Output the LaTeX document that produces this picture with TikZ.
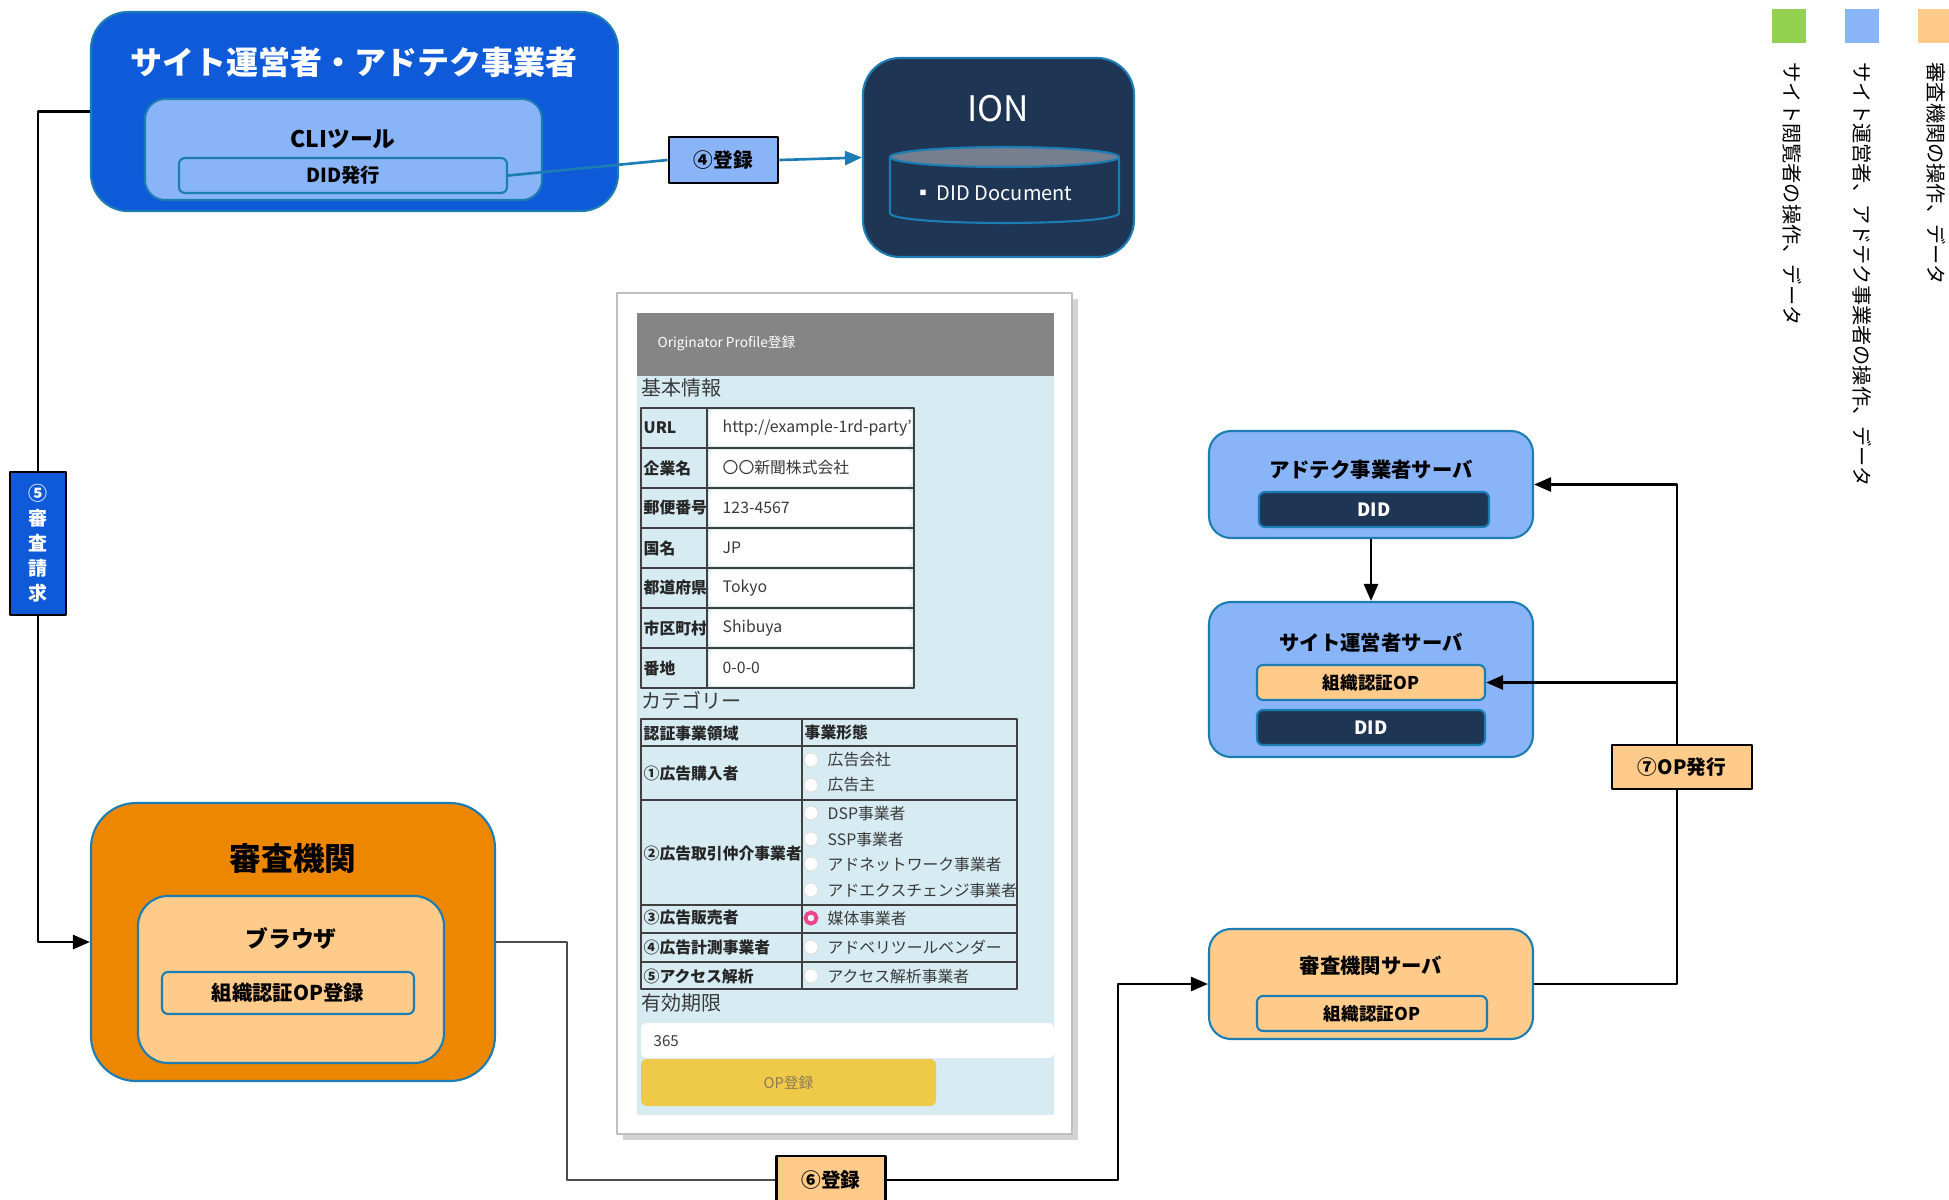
\documentclass[tikz,border=0pt]{standalone}
\usepackage{fontspec}
\setmainfont{Noto Sans CJK JP}
\usetikzlibrary{arrows.meta,shadows}
\definecolor{siteblue}{HTML}{0E5AD9}
\definecolor{lightblue}{HTML}{8AB4F8}
\definecolor{navy}{HTML}{1F3554}
\definecolor{edgeteal}{HTML}{1B7DB3}
\definecolor{examorange}{HTML}{EE8700}
\definecolor{peach}{HTML}{FFCB8B}
\definecolor{leafgreen}{HTML}{94D151}
\definecolor{formbg}{HTML}{D6EBF2}
\definecolor{headgray}{HTML}{858585}
\definecolor{btnyellow}{HTML}{EECA48}
\definecolor{btntext}{HTML}{8A7A52}
\definecolor{cylgray}{HTML}{757F8F}
\definecolor{radiopink}{HTML}{E9468F}
\definecolor{formtext}{HTML}{3A3A3A}
\newcommand\fsz[1]{\fontsize{#1}{#1}\selectfont}
\tikzset{
  every picture/.style={line join=round, >={Triangle[length=1.7mm,width=1.4mm]}},
  wh/.style 2 args={minimum width=#1*0.1mm, minimum height=#2*0.1mm},
  group/.style={draw=edgeteal, line width=0.6pt, inner sep=0pt},
  regbox/.style={draw=black, line width=0.8pt, inner sep=0pt, font=\bfseries\fsz{5.6}},
  boldtitle/.style={inner sep=0pt, font=\bfseries\fsz{#1}},
  conn/.style={draw=black, line width=0.75pt},
  thinline/.style={draw=black!70, line width=0.35pt},
  tealline/.style={draw=edgeteal, line width=0.75pt},
  legtxt/.style={rotate=-90, anchor=west, inner sep=0pt, font=\fsz{5.75}},
  sect/.style={anchor=west, inner sep=0pt, text=formtext, font=\fsz{5.7}},
  flabel/.style={anchor=west, inner sep=0pt, text=black!85, font=\bfseries\fsz{4.5}},
  fval/.style={anchor=west, inner sep=0pt, text=formtext, font=\fsz{4.5}},
  gridline/.style={draw=black!75, line width=0.35pt},
  radio/.style={draw=black!12, fill=white, line width=0.3pt},
}
\begin{document}
\begin{tikzpicture}[x=0.1mm,y=-0.1mm]
\useasboundingbox (0,0) rectangle (1949,1199);

\node[group, fill=siteblue, rounded corners=3.7mm, wh={527}{199}] (site) at (354.5,111.5) {};
\node[boldtitle=9.1, text=white] (sitettl) at (354,62) {サイト運営者・アドテク事業者};
\node[group, fill=lightblue, rounded corners=2mm, wh={397}{101}] (cli) at (343.5,149.5) {};
\node[boldtitle=6.5] (clittl) at (343,139) {CLIツール};
\node[group, fill=lightblue, rounded corners=0.6mm, wh={328}{35}, font=\bfseries\fsz{5.5}] (didissue) at (343,175.5) {DID発行};

\node[group, fill=navy, rounded corners=3.7mm, wh={271}{199}] (ion) at (998.5,157.5) {};
\node[inner sep=0pt, text=white, font=\fsz{10}] (iontxt) at (998,109) {ION};
\draw[edgeteal, line width=0.6pt] (890,157) -- (890,213) .. controls (890,226.3) and (1119,226.3) .. (1119,213) -- (1119,157);
\draw[edgeteal, line width=0.6pt, fill=cylgray] (1004.5,157) ellipse [x radius=114.5, y radius=10];
\node[inner sep=0pt, text=white, font=\fsz{5.7}] (diddoc) at (993,193) {▪\,DID Document};

\node[regbox, fill=lightblue, wh={109}{46}] (reg4) at (723.5,160) {④登録};
\draw[tealline] (didissue.east) -- (reg4.west);
\draw[tealline,->] (reg4.east) -- (ion.west);

\node[group, fill=examorange, rounded corners=4.5mm, wh={404}{278}] (exam) at (293,942) {};
\node[boldtitle=9] (examttl) at (293,858) {審査機関};
\node[group, fill=peach, rounded corners=3mm, wh={306}{167}] (browser) at (291,979.5) {};
\node[boldtitle=6.5] (browserttl) at (291,938) {ブラウザ};
\node[group, fill=peach, rounded corners=0.6mm, wh={252}{42}, font=\bfseries\fsz{5.8}] (opreg) at (288,993) {組織認証OP登録};

\node[draw=black, line width=0.8pt, fill=siteblue, wh={56}{143}, inner sep=0pt, text=white, align=center, font=\bfseries\fontsize{5.4}{7.1}\selectfont] (req5) at (38,543.5) {⑤\\審\\査\\請\\求};
\draw[conn] (site.west) -| (req5.north);
\draw[conn,->] (req5.south) |- (exam.west);

\node[regbox, fill=peach, wh={109}{48}] (reg6) at (831,1180) {⑥登録};
\draw[thinline] (exam.east) -- ++(71,0) |- (reg6.west);

\node[fill=white, draw=black!25, line width=0.3pt, drop shadow={shadow xshift=0.6mm, shadow yshift=-0.6mm, opacity=0.35}, wh={455}{841}, inner sep=0pt] (form) at (844.5,713.5) {};
\fill[formbg] (637,313) rectangle (1054,1115);
\node[fill=headgray, wh={417}{63}, inner sep=0pt] (formhead) at (845.5,344.5) {};
\node[anchor=west, inner sep=0pt, text=white, font=\fsz{3.9}] (formttl) at (657,343) {Originator Profile登録};
\node[sect] (basic) at (641,388) {基本情報};
\foreach \lab/\val [count=\i] in {URL/{http://example-1rd-party'}, 企業名/〇〇新聞株式会社, 郵便番号/123-4567, 国名/JP, 都道府県/Tokyo, 市区町村/Shibuya, 番地/0-0-0} {
  \pgfmathsetmacro\yy{408+40*(\i-1)}
  \fill[white, rounded corners=0.4mm] (709,\yy+2) rectangle (912,\yy+38);
  \node[flabel] (lab\i) at (643,\yy+20) {\lab};
  \node[fval] (val\i) at (722,\yy+20) {\val};
  \draw[gridline] (641,\yy) -- (914,\yy);
}
\draw[gridline] (641,408) rectangle (914,688) (707,408) -- (707,688);

\node[sect] (category) at (641,700) {カテゴリー};
\draw[gridline] (641,719) rectangle (1017,989) (802,719) -- (802,989);
\foreach \yy in {746,800,905,933,962}
  \draw[gridline] (641,\yy) -- (1017,\yy);
\node[flabel] (colarea) at (643,733) {認証事業領域};
\node[flabel] (colform) at (804,733) {事業形態};
\foreach \lab/\yy [count=\i] in {①広告購入者/773, ②広告取引仲介事業者/853, ③広告販売者/918, ④広告計測事業者/947, ⑤アクセス解析/976}
  \node[flabel] (area\i) at (643,\yy) {\lab};
\foreach \opt/\yy [count=\i] in {広告会社/760, 広告主/785, DSP事業者/813, SSP事業者/839, アドネットワーク事業者/864, アドエクスチェンジ事業者/890, 媒体事業者/918, アドベリツールベンダー/947, アクセス解析事業者/976} {
  \draw[radio] (811,\yy) circle (7);
  \node[fval] (opt\i) at (827,\yy) {\opt};
}
\draw[radiopink, fill=white, line width=1.1pt] (811,918) circle (5.5);

\node[sect] (expiry) at (641,1003) {有効期限};
\fill[white, rounded corners=0.5mm] (641,1023) rectangle (1054,1058);
\node[fval, font=\fsz{4.3}] (days) at (653,1041) {365};
\node[fill=btnyellow, rounded corners=0.6mm, wh={295}{47}, inner sep=0pt, text=btntext, font=\fsz{4.2}] (opbtn) at (788.5,1082.5) {OP登録};

\node[group, fill=lightblue, rounded corners=2.2mm, wh={324}{107}] (adtech) at (1371,484.5) {};
\node[boldtitle=5.8] (adtechttl) at (1371,470) {アドテク事業者サーバ};
\node[group, fill=navy, rounded corners=0.6mm, wh={230}{35}, text=white, font=\bfseries\fsz{5.2}] (did1) at (1374,509.5) {DID};

\node[group, fill=lightblue, rounded corners=2.2mm, wh={324}{155}] (sitesrv) at (1371,679.5) {};
\node[boldtitle=5.8] (sitesrvttl) at (1371,643) {サイト運営者サーバ};
\node[group, fill=peach, rounded corners=0.6mm, wh={228}{35}, font=\bfseries\fsz{5}] (opsite) at (1371,682.5) {組織認証OP};
\node[group, fill=navy, rounded corners=0.6mm, wh={228}{35}, text=white, font=\bfseries\fsz{5.2}] (did2) at (1371,727.5) {DID};

\node[group, fill=peach, rounded corners=2.2mm, wh={324}{110}] (examsrv) at (1371,984) {};
\node[boldtitle=5.8] (examsrvttl) at (1371,966) {審査機関サーバ};
\node[group, fill=peach, rounded corners=0.6mm, wh={230}{35}, font=\bfseries\fsz{5}] (opexam) at (1372,1013.5) {組織認証OP};

\coordinate (trunk) at (1677,767);
\draw[conn,->] (adtech.south) -- (sitesrv.north);
\draw[conn,->] (reg6.east) -- ++(231,0) |- (examsrv.west);
\draw[conn] (examsrv.east) -| (trunk);
\draw[conn,->] (trunk) |- (adtech.east);
\draw[conn,->] (trunk |- opsite.east) -- (opsite.east);
\node[regbox, fill=peach, wh={140}{44}] (op7) at (1682,767) {⑦OP発行};

\node[fill=leafgreen, wh={34}{34}, inner sep=0pt] (keyview) at (1789,26) {};
\node[fill=lightblue, wh={34}{34}, inner sep=0pt] (keysite) at (1862,26) {};
\node[fill=peach, wh={34}{34}, inner sep=0pt] (keyexam) at (1935,26) {};
\node[legtxt] (keyviewtxt) at (1792,62) {サイト閲覧者の操作、データ};
\node[legtxt] (keysitetxt) at (1862,62) {サイト運営者、アドテク事業者の操作、データ};
\node[legtxt] (keyexamtxt) at (1936,62) {審査機関の操作、データ};
\end{tikzpicture}
\end{document}
